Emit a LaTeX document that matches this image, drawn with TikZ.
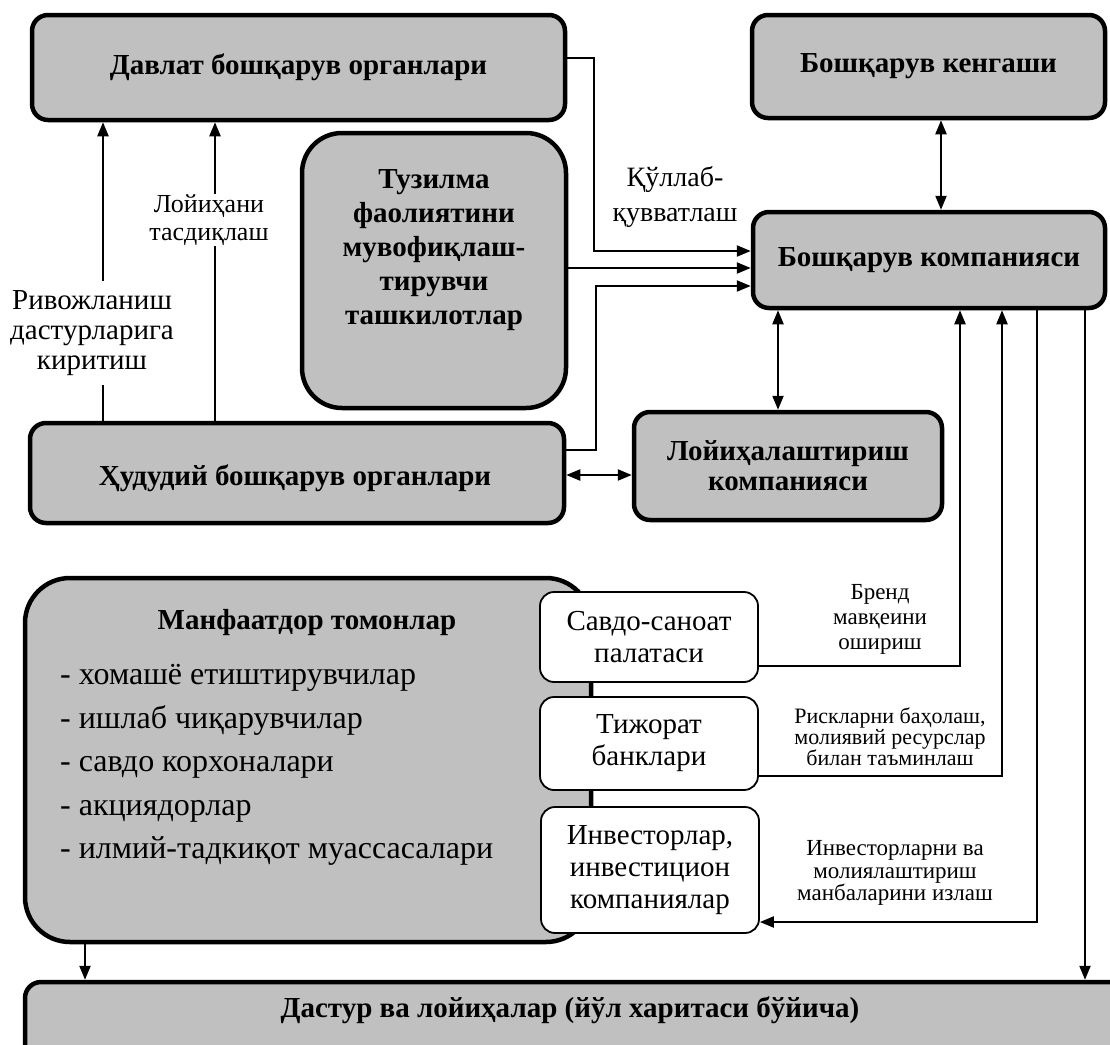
\documentclass[tikz,border=0pt]{standalone}
\usepackage{fontspec}
\setmainfont{Liberation Serif}
\usetikzlibrary{arrows.meta}
\definecolor{boxgray}{RGB}{192,192,192}
\begin{document}
\begin{tikzpicture}[x=1pt,y=-1pt,
  graybox/.style={draw=black, line width=4.5pt, fill=boxgray, rounded corners=16pt, inner sep=0pt, align=center, font=\bfseries\fontsize{29}{31}\selectfont},
  whitebox/.style={draw=black, line width=1.8pt, fill=white, rounded corners=14pt, inner sep=0pt, align=center, font=\fontsize{29}{32}\selectfont},
  btxt/.style={font=\bfseries\fontsize{29}{34}\selectfont, align=center, inner sep=0pt},
  lbl/.style={align=center, inner sep=0pt},
  conn/.style={line width=2.2pt, -{Triangle[length=14pt,width=11pt]}},
  dconn/.style={line width=2.2pt, {Triangle[length=14pt,width=11pt]}-{Triangle[length=14pt,width=11pt]}}
]
\useasboundingbox (0,0) rectangle (1110,1044);
\clip (0,0) rectangle (1110,1044);

% boxes
\node[graybox, minimum width=533, minimum height=105] (davlat) at (298.5,67.5) {Давлат бошқарув органлари};
\node[graybox, minimum width=353, minimum height=103] (keng) at (928.5,66.5) {Бошқарув кенгаши};
\node[graybox, minimum width=352, minimum height=96] (komp) at (929,260) {Бошқарув компанияси};
\node[graybox, rounded corners=40pt, minimum width=264, minimum height=275] (tuz) at (434,270.5) {};
\node[btxt] (tuztxt) at (434,250) {Тузилма\\фаолиятини\\мувофиқлаш-\\тирувчи\\ташкилотлар};
\node[graybox, minimum width=534, minimum height=100] (hud) at (297,473) {};
\node[btxt] (hudtxt) at (295,478) {Ҳудудий бошқарув органлари};
\node[graybox, minimum width=308, minimum height=108, font=\bfseries\fontsize{29}{30}\selectfont] (loy) at (788,466) {Лойиҳалаштириш\\компанияси};

\node[graybox, rounded corners=45pt, minimum width=566, minimum height=364] (manf) at (308,760) {};
\node[btxt] (mtitle) at (307,623) {Манфаатдор томонлар};
\node[anchor=west, align=left, inner sep=0pt, font=\fontsize{32}{43.5}\selectfont] (items) at (60,765)
  {- хомашё етиштирувчилар\\- ишлаб чиқарувчилар\\- савдо корхоналари\\- акциядорлар\\- илмий-тадкиқот муассасалари};

\node[whitebox, minimum width=218, minimum height=90] (savdo) at (649,637) {Савдо-саноат\\палатаси};
\node[whitebox, minimum width=218, minimum height=93] (tij) at (649,743.5) {Тижорат\\банклари};
\node[whitebox, minimum width=218, minimum height=126] (inv) at (650,870) {Инвесторлар,\\инвестицион\\компаниялар};

\node[graybox, minimum width=1105, minimum height=78] (dastur) at (577.5,1021) {};
\node[btxt] (dtxt) at (570,1010) {Дастур ва лойиҳалар (йўл харитаси бўйича)};

% helper coordinates
\coordinate (hA) at (594,58);
\coordinate (hA2) at (594,251);
\coordinate (hT) at (600,268);
\coordinate (hB) at (596,450);
\coordinate (hB2) at (596,286);
\coordinate (vK) at (941,0);
\coordinate (vL) at (778,0);
\coordinate (hL) at (0,475);
\coordinate (v1) at (103,0);
\coordinate (v2) at (215,0);
\coordinate (s1) at (960,666);
\coordinate (t1) at (1002,776);
\coordinate (i1) at (1037,922);
\coordinate (d1) at (1085,0);
\coordinate (d2) at (85,0);

% connectors
\draw[conn] (davlat.east |- hA) -- (hA) -- (hA2) -- (komp.west |- hA2);
\draw[conn] (tuz.east |- hT) -- (komp.west |- hT);
\draw[conn] (hud.east |- hB) -- (hB) -- (hB2) -- (komp.west |- hB2);
\draw[dconn] (keng.south -| vK) -- (komp.north -| vK);
\draw[dconn] (komp.south -| vL) -- (loy.north -| vL);
\draw[dconn] (hud.east |- hL) -- (loy.west |- hL);
\draw[conn] (hud.north -| v1) -- (davlat.south -| v1);
\draw[conn] (hud.north -| v2) -- (davlat.south -| v2);
\draw[conn] (savdo.east |- s1) -- (s1) -- (komp.south -| s1);
\draw[conn] (tij.east |- t1) -- (t1) -- (komp.south -| t1);
\draw[conn] (komp.south -| i1) -- (i1) -- (inv.east |- i1);
\draw[conn] (komp.south -| d1) -- (dastur.north -| d1);
\draw[conn] (manf.south -| d2) -- (dastur.north -| d2);

% labels
\node[lbl, font=\fontsize{28}{35}\selectfont] (lq) at (675,197) {Қўллаб-\\қувватлаш};
\node[lbl, fill=white, inner ysep=1pt, font=\fontsize{26}{28}\selectfont] (lt) at (209,220) {Лойиҳани\\тасдиқлаш};
\node[lbl, fill=white, inner ysep=9pt, font=\fontsize{29}{30}\selectfont] (lr) at (92,333) {Ривожланиш\\дастурларига\\киритиш};
\node[lbl, font=\fontsize{23}{25}\selectfont] (lb) at (880,619) {Бренд\\мавқеини\\ошириш};
\node[lbl, font=\fontsize{22}{19}\selectfont] (lrisk) at (890,737) {Рискларни баҳолаш,\\молиявий ресурслар\\билан таъминлаш};
\node[lbl, font=\fontsize{23}{22.5}\selectfont] (linv) at (895,873) {Инвесторларни ва\\молиялаштириш\\манбаларини излаш};
\end{tikzpicture}
\end{document}
